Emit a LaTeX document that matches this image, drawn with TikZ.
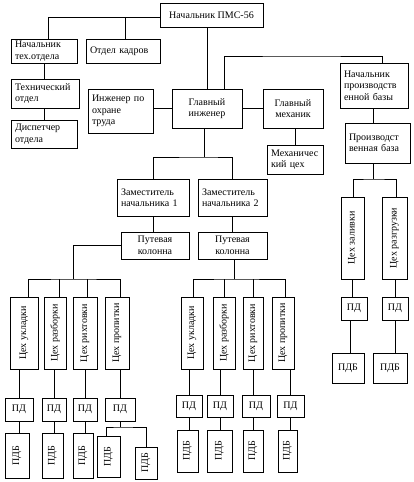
\documentclass[tikz,border=0pt]{standalone}
\usepackage{fontspec}
\setmainfont{Liberation Serif}
\begin{document}
\begin{tikzpicture}[x=1pt,y=-1pt,
  box/.style={draw, line width=0.9pt, inner xsep=4pt, inner ysep=1pt,
    font=\fontsize{10}{11.5}\selectfont, align=left},
  cbox/.style={box, align=center},
  vtext/.style={rotate=90, inner sep=0pt, font=\fontsize{10}{11.5}\selectfont},
  ln/.style={line width=0.9pt}]
\path[use as bounding box, fill=white] (0,0) rectangle (413,482);

% upper part
\node[cbox, minimum width=103pt, minimum height=24pt] (top) at (211.5,15) {Начальник ПМС-56};
\node[box, text width=58pt, minimum height=24pt] (nto) at (44,51) {Начальник\\тех.отдела};
\node[box, text width=66pt, minimum height=24pt] (kadr) at (123,51) {Отдел кадров};
\node[box, text width=60pt, minimum height=29pt] (tech) at (45,93.5) {Технический\\отдел};
\node[box, text width=58pt, minimum height=28pt] (disp) at (44,134) {Диспетчер\\отдела};
\node[box, text width=57pt, minimum height=44pt] (ing) at (120.5,111) {Инженер по\\охране\\труда};
\node[cbox, minimum width=70pt, minimum height=39pt] (gi) at (207,108.5) {Главный\\инженер};
\node[cbox, minimum width=60pt, minimum height=39pt] (gm) at (293,108.5) {Главный\\механик};
\node[box, text width=48pt, minimum height=29pt] (mc) at (295,159.5) {Механичес\\кий цех};
\node[box, text width=60pt, minimum height=45pt] (npb) at (374,85.5) {Начальник\\производств\\енной базы};
\node[box, text width=57pt, minimum height=40pt] (pb) at (377.5,143) {Производст\\венная база};
\node[box, text width=64pt, minimum height=37pt] (z1) at (153,197.5) {Заместитель\\начальника 1};
\node[box, text width=61pt, minimum height=37pt] (z2) at (232.5,197.5) {Заместитель\\начальника 2};
\node[cbox, minimum width=68pt, minimum height=27pt] (pk1) at (155,245.5) {Путевая\\колонна};
\node[cbox, minimum width=69pt, minimum height=27pt] (pk2) at (232.5,245.5) {Путевая\\колонна};

% left group
\node[box, minimum width=28pt, minimum height=72pt] (a1) at (24,333) {};
\node[box, minimum width=22pt, minimum height=72pt] (a2) at (55,333) {};
\node[box, minimum width=24pt, minimum height=72pt] (a3) at (85,333) {};
\node[box, minimum width=24pt, minimum height=72pt] (a4) at (117,333) {};
\node[vtext] (a1t) at (a1) {Цех укладки};
\node[vtext] (a2t) at (a2) {Цех разборки};
\node[vtext] (a3t) at (a3) {Цех рихтовки};
\node[vtext] (a4t) at (a4) {Цех пропитки};
\node[cbox, minimum width=28pt, minimum height=23pt] (p1) at (19,409.5) {ПД};
\node[cbox, minimum width=24pt, minimum height=23pt] (p2) at (54,409.5) {ПД};
\node[cbox, minimum width=24pt, minimum height=23pt] (p3) at (85,409.5) {ПД};
\node[cbox, minimum width=30pt, minimum height=23pt] (p4) at (120,409.5) {ПД};
\node[box, minimum width=24pt, minimum height=45pt] (b1) at (17,455.5) {};
\node[box, minimum width=21pt, minimum height=45pt] (b2) at (52.5,455.5) {};
\node[box, minimum width=20pt, minimum height=45pt] (b3) at (83,455.5) {};
\node[box, minimum width=23pt, minimum height=41pt] (b4) at (108.5,456.5) {};
\node[box, minimum width=22pt, minimum height=32pt] (b5) at (146,463) {};
\node[vtext] (b1t) at (b1) {ПДБ};
\node[vtext] (b2t) at (b2) {ПДБ};
\node[vtext] (b3t) at (b3) {ПДБ};
\node[vtext] (b4t) at (b4) {ПДБ};
\node[vtext] (b5t) at (b5) {ПДБ};

% middle group
\node[box, minimum width=22pt, minimum height=72pt] (m1) at (192,333) {};
\node[box, minimum width=22pt, minimum height=72pt] (m2) at (224,333) {};
\node[box, minimum width=20pt, minimum height=72pt] (m3) at (253,333) {};
\node[box, minimum width=22pt, minimum height=72pt] (m4) at (283,333) {};
\node[vtext] (m1t) at (m1) {Цех укладки};
\node[vtext] (m2t) at (m2) {Цех разборки};
\node[vtext] (m3t) at (m3) {Цех рихтовки};
\node[vtext] (m4t) at (m4) {Цех пропитки};
\node[cbox, minimum width=26pt, minimum height=22pt] (q1) at (189,406) {ПД};
\node[cbox, minimum width=26pt, minimum height=22pt] (q2) at (220,406) {ПД};
\node[cbox, minimum width=28pt, minimum height=22pt] (q3) at (256,406) {ПД};
\node[cbox, minimum width=27pt, minimum height=22pt] (q4) at (290.5,406) {ПД};
\node[box, minimum width=21pt, minimum height=42pt] (r1) at (187.5,451) {};
\node[box, minimum width=25pt, minimum height=42pt] (r2) at (219.5,451) {};
\node[box, minimum width=20pt, minimum height=42pt] (r3) at (253,451) {};
\node[box, minimum width=19pt, minimum height=42pt] (r4) at (287.5,451) {};
\node[vtext] (r1t) at (r1) {ПДБ};
\node[vtext] (r2t) at (r2) {ПДБ};
\node[vtext] (r3t) at (r3) {ПДБ};
\node[vtext] (r4t) at (r4) {ПДБ};

% right group
\node[box, minimum width=23pt, minimum height=82pt] (s1) at (352.5,238) {};
\node[box, minimum width=25pt, minimum height=82pt] (s2) at (394.5,238) {};
\node[vtext] (s1t) at (s1) {Цех заливки};
\node[vtext] (s2t) at (s2) {Цех разгрузки};
\node[cbox, minimum width=26pt, minimum height=23pt] (t1) at (354,308.5) {ПД};
\node[cbox, minimum width=26pt, minimum height=23pt] (t2) at (395,308.5) {ПД};
\node[cbox, minimum width=32pt, minimum height=30pt] (u1) at (348,368) {ПДБ};
\node[cbox, minimum width=34pt, minimum height=30pt] (u2) at (390,368) {ПДБ};

% junction coordinates
\coordinate (h1) at (100,17);
\coordinate (h2) at (300,56);
\coordinate (h3) at (204,157);
\coordinate (h4) at (73,279);
\coordinate (h5) at (120,427);
\coordinate (h6) at (234,279);
\coordinate (h7) at (373,179);

% connectors upper
\draw[ln] ([yshift=-2pt]top.west) -| ([xshift=4pt]nto.north);
\draw[ln] ([xshift=2pt]kadr.north) |- (h1);
\draw[ln] (gi.north) -- (gi.north |- top.south);
\draw[ln] ([xshift=17pt]gi.north) |- (h2) -| ([xshift=8pt]npb.north);
\draw[ln] (nto.south) -- (nto.south |- tech.north);
\draw[ln] (disp.north) -- (disp.north |- tech.south);
\draw[ln] (gi.west) -- (gi.west -| ing.east);
\draw[ln] (gi.east) -- (gm.west);
\draw[ln] (mc.north) -- (mc.north |- gm.south);
\draw[ln] ([xshift=-1pt]npb.south) -- ([xshift=-1pt]npb.south |- pb.north);
\draw[ln] (h3 |- gi.south) -- (h3);
\draw[ln] (z1.north) |- (h3) -| (z2.north);
\draw[ln] (z1.south) -- (z1.south |- pk1.north);
\draw[ln] (z2.south) -- (z2.south |- pk2.north);

% connectors left group
\draw[ln] (pk1.west) -| (h4);
\draw[ln] ([xshift=4pt]a1.north) |- (h4) -| ([xshift=3pt]a4.north);
\draw[ln] ([xshift=4pt]a2.north) -- ++(0,-18);
\draw[ln] ([xshift=2pt]a3.north) -- ++(0,-18);
\draw[ln] (p1.north) -- (p1.north |- a1.south);
\draw[ln] (p2.north) -- (p2.north |- a2.south);
\draw[ln] (p3.north) -- (p3.north |- a3.south);
\draw[ln] (p4.north) -- (p4.north |- a4.south);
\draw[ln] (p1.south) -- (p1.south |- b1.north);
\draw[ln] (p2.south) -- (p2.south |- b2.north);
\draw[ln] (p3.south) -- (p3.south |- b3.north);
\draw[ln] (p4.south) -- (h5);
\draw[ln] ([xshift=-2.5pt]b4.north) |- (h5) -| (b5.north);

% connectors middle group
\draw[ln] (h6 |- pk2.south) -- (h6);
\draw[ln] ([xshift=1pt]m1.north) |- (h6) -| ([xshift=2pt]m4.north);
\draw[ln] (m2.north) -- (m2.north |- h6);
\draw[ln] (m3.north) -- (m3.north |- h6);
\draw[ln] (q1.north) -- (q1.north |- m1.south);
\draw[ln] (q2.north) -- (q2.north |- m2.south);
\draw[ln] (m3.south) -- (m3.south |- q3.north);
\draw[ln] (q4.north) -- (q4.north |- m4.south);
\draw[ln] (q1.south) -- (q1.south |- r1.north);
\draw[ln] (q2.south) -- (q2.south |- r2.north);
\draw[ln] (r3.north) -- (r3.north |- q3.south);
\draw[ln] (q4.south) -- (q4.south |- r4.north);

% connectors right group
\draw[ln] (h7 |- pb.south) -- (h7);
\draw[ln] ([xshift=0.5pt]s1.north) |- (h7) -| ([xshift=1.5pt]s2.north);
\draw[ln] (s1.south) -- (s1.south |- t1.north);
\draw[ln] (t2.north) -- (t2.north |- s2.south);
\draw[ln] ([xshift=2pt]u1.north) -- ++(0,-33);
\draw[ln] (t2.south) -- (t2.south |- u2.north);
\end{tikzpicture}
\end{document}
